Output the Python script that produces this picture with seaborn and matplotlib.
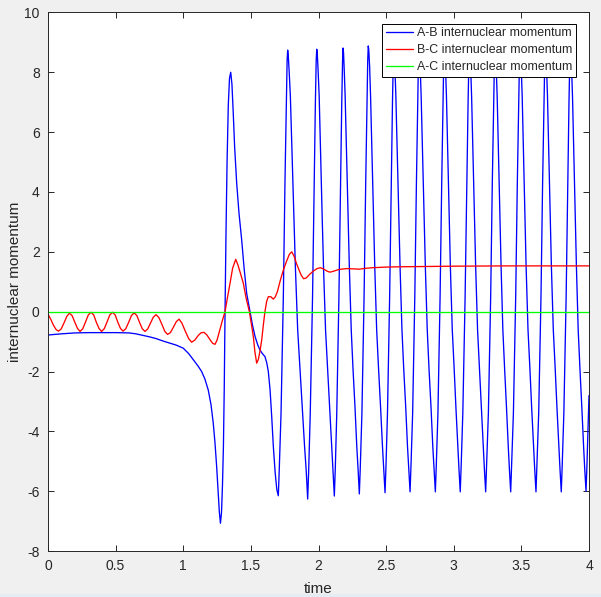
import matplotlib
matplotlib.use("Agg")
import matplotlib.pyplot as plt
from matplotlib.patches import Rectangle
import seaborn as sns
import pandas as pd

# ---------------- data ----------------
ab_t = [0.000, 0.100, 0.200, 0.300, 0.400, 0.500, 0.600, 0.650, 0.700, 0.750,
        0.800, 0.850, 0.900, 0.950, 1.000, 1.040, 1.075, 1.110, 1.136, 1.160,
        1.185, 1.205, 1.222, 1.235, 1.247, 1.258, 1.267, 1.275, 1.283, 1.290,
        1.297, 1.303, 1.309, 1.316, 1.324, 1.333, 1.342, 1.351, 1.360, 1.370,
        1.380, 1.395, 1.412, 1.432, 1.450, 1.469, 1.494, 1.512, 1.531, 1.550,
        1.567, 1.585, 1.604, 1.617, 1.629, 1.642, 1.654, 1.666, 1.680, 1.692,
        # cycle A
        1.703, 1.710, 1.723, 1.740, 1.752, 1.762, 1.768, 1.772,
        1.776, 1.783, 1.792, 1.806, 1.818, 1.829, 1.846, 1.863, 1.880, 1.897, 1.909,
        # cycle B
        1.920, 1.927, 1.939, 1.956, 1.968, 1.977, 1.983, 1.987,
        1.991, 1.997, 2.005, 2.017, 2.027, 2.037, 2.052, 2.067, 2.082, 2.097, 2.107,
        # cycle C
        2.117, 2.124, 2.135, 2.151, 2.163, 2.172, 2.178, 2.181,
        2.185, 2.190, 2.197, 2.209, 2.218, 2.228, 2.242, 2.255, 2.270, 2.283, 2.293,
        # cycle D
        2.302, 2.309, 2.321, 2.337, 2.349, 2.359, 2.364, 2.368,
        2.372, 2.378, 2.385, 2.397, 2.406, 2.416, 2.430, 2.444, 2.459, 2.473, 2.483,
        # cycle E
        2.492, 2.499, 2.510, 2.526, 2.538, 2.547, 2.553, 2.556,
        2.560, 2.565, 2.572, 2.584, 2.593, 2.603, 2.617, 2.630, 2.645, 2.658, 2.668,
        # cycle F
        2.677, 2.684, 2.696, 2.712, 2.724, 2.734, 2.739, 2.743,
        2.747, 2.752, 2.759, 2.771, 2.780, 2.790, 2.804, 2.817, 2.832, 2.845, 2.855,
        # cycle G
        2.864, 2.871, 2.883, 2.899, 2.911, 2.921, 2.926, 2.930,
        2.933, 2.939, 2.946, 2.957, 2.966, 2.975, 2.989, 3.003, 3.016, 3.030, 3.039,
        # cycle H
        3.048, 3.055, 3.067, 3.084, 3.097, 3.106, 3.112, 3.116,
        3.120, 3.125, 3.132, 3.144, 3.153, 3.162, 3.176, 3.190, 3.204, 3.218, 3.227,
        # cycle I
        3.236, 3.243, 3.256, 3.273, 3.285, 3.295, 3.301, 3.305,
        3.308, 3.314, 3.321, 3.332, 3.341, 3.350, 3.363, 3.376, 3.390, 3.403, 3.412,
        # cycle J
        3.421, 3.428, 3.441, 3.458, 3.470, 3.480, 3.486, 3.490,
        3.493, 3.499, 3.506, 3.517, 3.526, 3.535, 3.549, 3.563, 3.576, 3.590, 3.599,
        # cycle K
        3.608, 3.615, 3.628, 3.645, 3.657, 3.667, 3.673, 3.677,
        3.680, 3.686, 3.693, 3.704, 3.713, 3.722, 3.736, 3.750, 3.763, 3.777, 3.786,
        # cycle L
        3.795, 3.802, 3.814, 3.831, 3.843, 3.852, 3.858, 3.862,
        3.865, 3.871, 3.878, 3.889, 3.898, 3.907, 3.920, 3.933, 3.947, 3.960, 3.969,
        # end
        3.978, 3.985, 4.000]

ab_v = [-0.78, -0.74, -0.71, -0.70, -0.70, -0.70, -0.71, -0.74, -0.79, -0.84,
        -0.90, -0.98, -1.05, -1.12, -1.22, -1.40, -1.61, -1.82, -2.00, -2.25,
        -2.62, -3.10, -3.73, -4.40, -5.18, -6.00, -6.70, -7.07, -6.70, -5.80,
        -4.51, -2.60, 0.00, 2.60, 5.00, 6.90, 7.80, 8.00, 7.60, 6.60,
        5.50, 4.30, 3.30, 2.40, 1.45, 0.61, 0.00, -0.45, -0.83, -1.10,
        -1.28, -1.40, -1.50, -1.70, -2.00, -2.62, -3.50, -4.50, -5.40, -5.95,
        # cycle A
        -6.15, -5.25, -3.4, 0.5, 4.3, 7.0, 8.4, 8.74,
        8.59, 8.04, 7.2, 5.0, 3.2, 1.5, -0.6, -1.9, -3.2, -4.5, -5.3,
        # cycle B
        -6.26, -5.36, -3.4, 0.5, 4.3, 7.0, 8.4, 8.77,
        8.62, 8.07, 7.2, 5.0, 3.2, 1.5, -0.6, -1.9, -3.2, -4.5, -5.3,
        # cycle C
        -6.16, -5.26, -3.4, 0.5, 4.3, 7.0, 8.4, 8.81,
        8.66, 8.11, 7.2, 5.0, 3.2, 1.5, -0.6, -1.9, -3.2, -4.5, -5.3,
        # cycle D
        -6.09, -5.19, -3.4, 0.5, 4.3, 7.0, 8.4, 8.88,
        8.73, 8.18, 7.2, 5.0, 3.2, 1.5, -0.6, -1.9, -3.2, -4.5, -5.3,
        # cycle E
        -6.05, -5.15, -3.4, 0.5, 4.3, 7.0, 8.4, 8.85,
        8.70, 8.15, 7.2, 5.0, 3.2, 1.5, -0.6, -1.9, -3.2, -4.5, -5.3,
        # cycle F
        -6.02, -5.12, -3.4, 0.5, 4.3, 7.0, 8.4, 8.85,
        8.70, 8.15, 7.2, 5.0, 3.2, 1.5, -0.6, -1.9, -3.2, -4.5, -5.3,
        # cycle G
        -6.02, -5.12, -3.4, 0.5, 4.3, 7.0, 8.4, 8.85,
        8.70, 8.15, 7.2, 5.0, 3.2, 1.5, -0.6, -1.9, -3.2, -4.5, -5.3,
        # cycle H
        -6.02, -5.12, -3.4, 0.5, 4.3, 7.0, 8.4, 8.85,
        8.70, 8.15, 7.2, 5.0, 3.2, 1.5, -0.6, -1.9, -3.2, -4.5, -5.3,
        # cycle I
        -6.02, -5.12, -3.4, 0.5, 4.3, 7.0, 8.4, 8.85,
        8.70, 8.15, 7.2, 5.0, 3.2, 1.5, -0.6, -1.9, -3.2, -4.5, -5.3,
        # cycle J
        -6.02, -5.12, -3.4, 0.5, 4.3, 7.0, 8.4, 8.85,
        8.70, 8.15, 7.2, 5.0, 3.2, 1.5, -0.6, -1.9, -3.2, -4.5, -5.3,
        # cycle K
        -6.02, -5.12, -3.4, 0.5, 4.3, 7.0, 8.4, 8.85,
        8.70, 8.15, 7.2, 5.0, 3.2, 1.5, -0.6, -1.9, -3.2, -4.5, -5.3,
        # cycle L
        -6.02, -5.12, -3.4, 0.5, 4.3, 7.0, 8.4, 8.85,
        8.70, 8.15, 7.2, 5.0, 3.2, 1.5, -0.6, -1.9, -3.2, -4.5, -5.3,
        # end
        -6.00, -5.10, -2.80]

bc_t = [0.000, 0.020, 0.040, 0.060, 0.078, 0.097, 0.118, 0.140, 0.159, 0.178,
        0.198, 0.218, 0.237, 0.257, 0.277, 0.298, 0.318, 0.338, 0.357, 0.377,
        0.396, 0.416, 0.436, 0.457, 0.477, 0.497, 0.516, 0.536, 0.555, 0.575,
        0.596, 0.617, 0.637, 0.657, 0.677, 0.697, 0.717, 0.737, 0.758, 0.779,
        0.799, 0.820, 0.842, 0.864, 0.884, 0.905, 0.927, 0.949, 0.969, 0.990,
        1.015, 1.040, 1.062, 1.085, 1.110, 1.130, 1.153, 1.175, 1.200, 1.218,
        1.235, 1.250, 1.268, 1.289, 1.309, 1.328, 1.346, 1.365, 1.388, 1.405,
        1.425, 1.444, 1.465, 1.489, 1.505, 1.518, 1.530, 1.543, 1.555, 1.568,
        1.580, 1.592, 1.604, 1.617, 1.629, 1.647, 1.666, 1.681, 1.696, 1.718,
        1.740, 1.765, 1.785, 1.802, 1.820, 1.838, 1.851, 1.872, 1.890, 1.910,
        1.935, 1.962, 1.990, 2.014, 2.040, 2.065, 2.085, 2.110, 2.150, 2.208,
        2.260, 2.300, 2.350, 2.400, 2.500, 2.600, 2.800, 3.000, 3.400, 4.000]

bc_v = [-0.08, -0.25, -0.45, -0.60, -0.65, -0.58, -0.38, -0.15, -0.05, -0.13,
        -0.35, -0.56, -0.66, -0.57, -0.35, -0.11, -0.02, -0.11, -0.35, -0.56,
        -0.66, -0.57, -0.35, -0.11, -0.02, -0.11, -0.35, -0.56, -0.65, -0.57,
        -0.36, -0.13, -0.04, -0.13, -0.36, -0.57, -0.66, -0.58, -0.38, -0.18,
        -0.10, -0.20, -0.42, -0.66, -0.76, -0.70, -0.52, -0.33, -0.25, -0.38,
        -0.65, -0.90, -1.02, -0.95, -0.80, -0.71, -0.69, -0.78, -0.95, -1.06,
        -1.09, -0.95, -0.65, -0.30, 0.00, 0.50, 0.95, 1.45, 1.75, 1.55,
        1.25, 0.95, 0.45, 0.00, -0.45, -0.83, -1.35, -1.72, -1.60, -1.30,
        -0.95, -0.45, 0.00, 0.35, 0.50, 0.50, 0.42, 0.50, 0.67, 1.05,
        1.39, 1.70, 1.92, 2.00, 1.85, 1.60, 1.45, 1.22, 1.10, 1.13,
        1.25, 1.36, 1.44, 1.47, 1.42, 1.35, 1.32, 1.35, 1.41, 1.44,
        1.43, 1.42, 1.45, 1.47, 1.49, 1.50, 1.51, 1.52, 1.53, 1.53]

ac_t = [0.0, 4.0]
ac_v = [0.0, 0.0]

labels = ["A-B internuclear momentum", "B-C internuclear momentum",
          "A-C internuclear momentum"]
colors = ["#0000ff", "#ff0000", "#00ff00"]
x_ticks = [0, 0.5, 1, 1.5, 2, 2.5, 3, 3.5, 4]
x_tick_labels = ["0", "0.5", "1", "1.5", "2", "2.5", "3", "3.5", "4"]
y_ticks = [-8, -6, -4, -2, 0, 2, 4, 6, 8, 10]
y_tick_labels = ["-8", "-6", "-4", "-2", "0", "2", "4", "6", "8", "10"]

# ---------------- style ----------------
sns.set_style("ticks")
plt.rcParams["font.family"] = ["Liberation Sans", "DejaVu Sans"]
plt.rcParams["axes.edgecolor"] = "#262626"

fig = plt.figure(figsize=(6.01, 5.97), dpi=100, facecolor="#f0f0f0")
ax = fig.add_axes([48 / 601, (597 - 551.1) / 597, 541 / 601, 538.7 / 597])
ax.set_facecolor("white")

series = [(ab_t, ab_v), (bc_t, bc_v), (ac_t, ac_v)]
for (t, v), lab, col in zip(series, labels, colors):
    df = pd.DataFrame({"time": t, "value": v})
    sns.lineplot(data=df, x="time", y="value", ax=ax, color=col, lw=0.95,
                 label=lab, sort=False, estimator=None)

ax.set_xlim(0, 4)
ax.set_ylim(-8, 10)
ax.set_xticks(x_ticks)
ax.set_xticklabels(x_tick_labels)
ax.set_yticks(y_ticks)
ax.set_yticklabels(y_tick_labels)
ax.tick_params(direction="in", length=4, width=0.7, top=True, right=True,
               labelsize=10, colors="#262626", pad=6)
for s in ax.spines.values():
    s.set_linewidth(0.7)
    s.set_color("#262626")

ax.set_xlabel("time", fontsize=11, color="#262626", labelpad=6)
ax.set_ylabel("internuclear momentum", fontsize=11, color="#262626", labelpad=2)

leg = ax.legend(loc="upper right", bbox_to_anchor=(0.976, 0.979),
                borderaxespad=0, fontsize=8.9, frameon=True, fancybox=False,
                edgecolor="black", framealpha=1, handlelength=2.2,
                handletextpad=0.3, labelspacing=0.4, borderpad=0.3)
leg.get_frame().set_linewidth(0.7)

fig.add_artist(Rectangle((0, 0), 1, 3.3 / 597, transform=fig.transFigure,
                         facecolor="#e4edf6", edgecolor="none", zorder=10))

fig.savefig("out.png", dpi=100, facecolor=fig.get_facecolor())
